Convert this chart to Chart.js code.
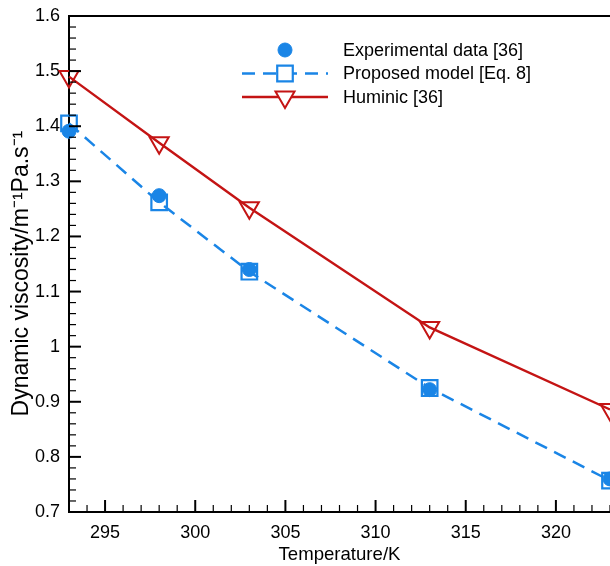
<!DOCTYPE html>
<html>
<head>
<meta charset="utf-8">
<script src="https://cdn.jsdelivr.net/npm/chart.js@4.4.0/dist/chart.umd.min.js"></script>
<style>
  html, body { margin: 0; padding: 0; background: #fff; }
  #wrap { width: 610px; height: 566px; }
</style>
</head>
<body>
<div id="wrap"><canvas id="viscChart" width="610" height="566"></canvas></div>
<script>
// values
const temps = [293, 298, 303, 313, 323];
const experimental = [1.391, 1.274, 1.140, 0.922, 0.760];
const proposed = [1.405, 1.262, 1.136, 0.925, 0.757];
const huminic = [1.490, 1.370, 1.252, 1.035, 0.886];

const xTicks = [295, 300, 305, 310, 315, 320];
const yTicks = [0.7, 0.8, 0.9, 1, 1.1, 1.2, 1.3, 1.4, 1.5, 1.6];
const legendLabels = ["Experimental data [36]", "Proposed model [Eq. 8]", "Huminic [36]"];

const BLUE = "#1a85e6";
const RED = "#c41414";
const FONT = "'Liberation Sans', Arial, sans-serif";

Chart.defaults.font.family = FONT;
Chart.defaults.color = "#000";

function pts(ys) { return temps.map((t, i) => ({ x: t, y: ys[i] })); }

// inward ticks, top frame line and the legend
const framePlugin = {
  id: "frame",
  afterDraw(chart) {
    const ctx = chart.ctx;
    const area = chart.chartArea;
    const xs = chart.scales.x, ys = chart.scales.y;
    ctx.save();
    ctx.strokeStyle = "#000";
    ctx.lineWidth = 2;
    ctx.beginPath();
    ctx.moveTo(area.left - 1, area.top);
    ctx.lineTo(area.right, area.top);
    ctx.stroke();

    // x ticks every 1 K, major every 5
    for (let v = 293; v <= 323; v++) {
      const px = xs.getPixelForValue(v);
      const major = v % 5 === 0;
      ctx.lineWidth = major ? 2 : 1.2;
      ctx.beginPath();
      ctx.moveTo(px, area.bottom);
      ctx.lineTo(px, area.bottom - (major ? 12 : 7));
      ctx.stroke();
    }
    // y ticks every 0.02, major every 0.1
    for (let k = 35; k <= 80; k++) {
      const py = ys.getPixelForValue(k / 50);
      const major = k % 5 === 0;
      ctx.lineWidth = major ? 2 : 1.2;
      ctx.beginPath();
      ctx.moveTo(area.left, py);
      ctx.lineTo(area.left + (major ? 12 : 7), py);
      ctx.stroke();
    }

    // legend: line sample + marker + text
    const x0 = 242, x1 = 328, xm = 285, tx = 343;
    chart.data.datasets.forEach((d, i) => {
      const y = 50 + i * 23.5;
      if (d.showLine) {
        ctx.strokeStyle = d.borderColor;
        ctx.lineWidth = d.borderWidth;
        ctx.setLineDash(d.borderDash || []);
        ctx.beginPath();
        ctx.moveTo(x0, y);
        ctx.lineTo(x1, y);
        ctx.stroke();
        ctx.setLineDash([]);
        // clear behind hollow marker
        ctx.fillStyle = "#fff";
        Chart.helpers.drawPoint(ctx, {
          pointStyle: d.pointStyle, rotation: d.pointRotation || 0,
          radius: d.pointRadius - 1, borderWidth: 0
        }, xm, y);
      }
      ctx.strokeStyle = d.pointBorderColor;
      ctx.fillStyle = d.pointBackgroundColor;
      ctx.lineWidth = d.pointBorderWidth;
      Chart.helpers.drawPoint(ctx, {
        pointStyle: d.pointStyle, rotation: d.pointRotation || 0,
        radius: d.pointRadius, borderWidth: d.pointBorderWidth
      }, xm, y);
      ctx.fillStyle = "#000";
      ctx.font = "18px " + FONT;
      ctx.textBaseline = "middle";
      ctx.textAlign = "left";
      ctx.fillText(legendLabels[i], tx, y + 1);
    });
    ctx.restore();
  }
};

new Chart(document.getElementById("viscChart"), {
  type: "scatter",
  data: {
    datasets: [
      {
        label: legendLabels[0],
        data: pts(experimental),
        showLine: false,
        pointStyle: "circle",
        pointRadius: 7,
        pointBorderWidth: 1,
        pointBackgroundColor: BLUE,
        pointBorderColor: BLUE,
        borderColor: BLUE,
        order: 1,
        clip: false
      },
      {
        label: legendLabels[1],
        data: pts(proposed),
        showLine: true,
        borderColor: BLUE,
        borderWidth: 2.5,
        borderDash: [13, 8],
        pointStyle: "rect",
        pointRadius: 11,
        pointBorderWidth: 2.2,
        pointBackgroundColor: "rgba(255,255,255,0)",
        pointBorderColor: BLUE,
        order: 2,
        clip: false
      },
      {
        label: legendLabels[2],
        data: pts(huminic),
        showLine: true,
        borderColor: RED,
        borderWidth: 2.4,
        pointStyle: "triangle",
        pointRotation: 180,
        pointRadius: 11,
        pointBorderWidth: 2,
        pointBackgroundColor: "rgba(255,255,255,0)",
        pointBorderColor: RED,
        order: 3,
        clip: false
      }
    ]
  },
  options: {
    responsive: false,
    animation: false,
    layout: { autoPadding: false, padding: { top: 16, right: 0, left: 0, bottom: 0 } },
    plugins: {
      legend: { display: false },
      tooltip: { enabled: false }
    },
    scales: {
      x: {
        type: "linear",
        min: 293,
        max: 323,
        afterBuildTicks: s => { s.ticks = xTicks.map(v => ({ value: v })); },
        afterFit: s => { s.height = 54; s.paddingLeft = 0; s.paddingRight = 0; },
        grid: { display: false, drawTicks: false },
        border: { display: true, color: "#000", width: 2 },
        ticks: { padding: 10, font: { size: 18 }, color: "#000", maxRotation: 0 },
        title: { display: true, text: "Temperature/K", font: { size: 18.6 }, color: "#000", padding: { top: 5, bottom: 0 } }
      },
      y: {
        type: "linear",
        min: 0.7,
        max: 1.6,
        afterBuildTicks: s => { s.ticks = yTicks.map(v => ({ value: v })); },
        afterFit: s => { s.width = 69; s.paddingTop = 0; s.paddingBottom = 0; },
        grid: { display: false, drawTicks: false },
        border: { display: true, color: "#000", width: 2 },
        ticks: { padding: 9, font: { size: 18 }, color: "#000", callback: v => String(v) },
        title: { display: true, text: "Dynamic viscosity/m\u207B\u00B9Pa.s\u207B\u00B9\u00A0\u00A0\u00A0", font: { size: 23 }, color: "#000", padding: { top: 8, bottom: 0 } }
      }
    }
  },
  plugins: [framePlugin]
});
</script>
</body>
</html>
